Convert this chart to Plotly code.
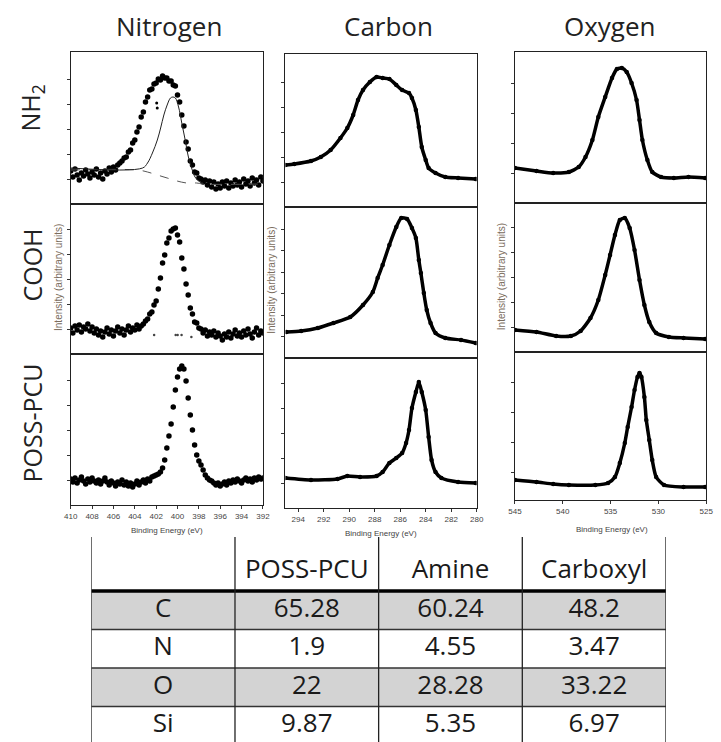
import plotly.graph_objects as go

# ---------------- data ----------------
# Nitrogen 1s: binding energy grid (eV)
N_BE = [410.0, 409.8, 409.6, 409.4, 409.2, 409.0, 408.8, 408.6, 408.4, 408.2,
        408.0, 407.8, 407.6, 407.4, 407.2, 407.0, 406.8, 406.6, 406.4, 406.2,
        406.0, 405.8, 405.6, 405.4, 405.2, 405.0, 404.8, 404.6, 404.4, 404.2,
        404.0, 403.8, 403.6, 403.4, 403.2, 403.0, 402.8, 402.6, 402.4, 402.2,
        402.0, 401.8, 401.6, 401.4, 401.2, 401.0, 400.8, 400.6, 400.4, 400.2,
        400.0, 399.8, 399.6, 399.4, 399.2, 399.0, 398.8, 398.6, 398.4, 398.2,
        398.0, 397.8, 397.6, 397.4, 397.2, 397.0, 396.8, 396.6, 396.4, 396.2,
        396.0, 395.8, 395.6, 395.4, 395.2, 395.0, 394.8, 394.6, 394.4, 394.2,
        394.0, 393.8, 393.6, 393.4, 393.2, 393.0, 392.8, 392.6, 392.4, 392.2,
        392.0]
N_NH2 = [33, 27, 35, 29, 24, 31, 28, 34, 30, 26,
         32, 29, 35, 27, 31, 25, 33, 30, 36, 32,
         37, 34, 39, 41, 43, 46, 47, 52, 54, 61,
         64, 72, 77, 87, 92, 102, 107, 114, 115, 120,
         121, 125, 124, 128, 126, 126, 123, 123, 119, 118,
         109, 102, 89, 78, 62, 55, 43, 39, 32, 31,
         26, 25, 22, 24, 19, 23, 17, 22, 15, 20,
         16, 22, 18, 23, 16, 21, 18, 24, 19, 22,
         17, 25, 20, 23, 18, 26, 21, 24, 19, 27,
         23]
N_NH2_EXTRA_BE = [401.95, 401.9]
N_NH2_EXTRA = [101, 96]
N_NH2_FIT_BE = [410.0, 403.27, 402.81, 402.35, 401.89, 401.58, 401.28, 400.97, 400.66,
                400.43, 400.2, 399.9, 399.6, 399.28, 398.98, 398.68, 398.36, 397.9, 397.6]
N_NH2_FIT = [36, 36, 41, 51, 64, 76, 89, 99, 106, 107, 106, 97, 81, 64, 47, 36, 27, 22, 21]
N_NH2_BG_BE = [410.0, 403.76, 402.81, 401.89, 400.97, 400.05, 399.14, 398.22, 397.6, 392.0]
N_NH2_BG = [34, 34, 32, 29, 26, 23, 21, 21, 20, 20]

N_COOH = [26, 21, 28, 24, 29, 22, 27, 25, 30, 23,
          27, 21, 25, 19, 23, 17, 22, 26, 20, 24,
          18, 23, 27, 21, 25, 19, 24, 28, 22, 26,
          24, 29, 25, 28, 30, 33, 35, 40, 42, 49,
          53, 65, 76, 91, 99, 111, 116, 123, 125, 126,
          119, 112, 96, 85, 70, 59, 46, 40, 32, 31,
          26, 25, 21, 24, 18, 22, 19, 23, 17, 21,
          18, 14, 20, 17, 22, 16, 20, 24, 18, 21,
          17, 23, 19, 25, 20, 16, 22, 26, 19, 23,
          21]
N_COOH_RES_BE = [402.19, 400.17, 399.99, 399.62, 398.7]
N_COOH_RES = [19, 19, 19, 19, 17]

N_POSS = [26, 23, 27, 22, 25, 28, 24, 21, 26, 23,
          27, 24, 22, 25, 21, 24, 27, 23, 20, 24,
          22, 19, 23, 21, 25, 20, 23, 19, 22, 18,
          21, 24, 20, 23, 25, 22, 26, 24, 28, 29,
          30, 31, 33, 37, 45, 57, 69, 81, 98, 115,
          128, 136, 139, 136, 124, 107, 90, 75, 60, 50,
          44, 40, 35, 30, 27, 25, 24, 22, 20, 22,
          19, 21, 23, 20, 24, 22, 25, 23, 26, 24,
          22, 25, 27, 24, 26, 23, 27, 25, 28, 26,
          27]

# Carbon 1s
C_NH2_BE = [295.0, 294.31, 293.0, 292.23, 291.46, 290.69, 290.15, 289.69, 289.31, 288.92,
            288.38, 287.85, 287.38, 286.85, 286.31, 285.85, 285.31, 285.08, 284.77, 284.54,
            284.31, 284.0, 283.77, 283.23, 282.46, 281.46, 280.08]
C_NH2 = [42, 43, 46, 50, 57, 69, 79, 92, 107, 117,
         125, 130, 129, 128, 122, 117, 114, 109, 97, 80,
         60, 47, 39, 34, 30, 29, 28]
C_COOH_BE = [294.92, 293.77, 292.46, 291.23, 289.92, 288.92, 288.15, 287.77, 287.38, 286.85,
             286.31, 285.92, 285.46, 285.08, 284.77, 284.54, 284.38, 284.15, 283.92, 283.62,
             283.23, 282.46, 281.23, 280.08]
C_COOH = [26, 27, 30, 35, 41, 53, 66, 80, 93, 113,
          131, 140, 139, 130, 120, 98, 85, 65, 48, 35,
          25, 20, 18, 15]
C_POSS_BE = [295.0, 293.0, 290.92, 290.15, 289.15, 287.85, 287.38, 286.85, 286.31, 285.85,
             285.54, 285.31, 285.08, 284.77, 284.54, 284.31, 284.0, 283.77, 283.54, 283.23,
             282.77, 281.46, 280.08]
C_POSS = [30, 28, 29, 32, 31, 32, 36, 45, 50, 55,
          65, 78, 100, 116, 126, 116, 98, 71, 48, 36,
          30, 26, 25]

# Oxygen 1s
O_NH2_BE = [545.0, 542.74, 541.0, 539.36, 538.33, 537.62, 536.9, 536.28, 535.56, 534.85,
            534.33, 533.82, 533.31, 532.8, 532.28, 531.97, 531.67, 531.15, 530.64, 529.72,
            528.38, 526.85, 525.1]
O_NH2 = [35, 32, 30, 31, 36, 46, 63, 86, 106, 125,
         134, 135, 131, 120, 103, 83, 63, 43, 31, 26,
         25, 26, 25]
O_COOH_BE = [545.0, 542.74, 540.69, 539.15, 538.13, 537.1, 536.28, 535.56, 535.05, 534.54,
             534.03, 533.51, 533.0, 532.49, 531.97, 531.46, 530.95, 530.23, 528.9, 527.36,
             525.1]
O_COOH = [22, 20, 16, 16, 21, 34, 52, 77, 97, 117,
          132, 134, 124, 102, 72, 47, 30, 19, 15, 14,
          13]
O_POSS_BE = [545.0, 542.74, 541.0, 539.36, 536.59, 535.26, 534.54, 534.03, 533.51, 533.21,
             532.8, 532.49, 532.18, 531.97, 531.77, 531.46, 531.26, 530.95, 530.64, 530.23,
             529.41, 527.36, 525.1]
O_POSS = [20, 18, 16, 15, 15, 17, 23, 37, 57, 73,
          93, 110, 123, 127, 123, 103, 80, 60, 40, 23,
          15, 13, 13]

# axis tick values
N_TICKS = [410, 408, 406, 404, 402, 400, 398, 396, 394, 392]
C_TICKS = [294, 292, 290, 288, 286, 284, 282, 280]
O_TICKS = [545, 540, 535, 530, 525]

COLUMN_TITLES = ["Nitrogen", "Carbon", "Oxygen"]
ROW_TITLES = ["NH<sub>2</sub>", "COOH", "POSS-PCU"]

# composition table (atomic %)
ELEMENTS = ["C", "N", "O", "Si"]
SAMPLES = ["POSS-PCU", "Amine", "Carboxyl"]
POSS_PCU_AT = [65.28, 1.9, 22, 9.87]
AMINE_AT = [60.24, 4.55, 28.28, 5.35]
CARBOXYL_AT = [48.2, 3.47, 33.22, 6.97]

# ---------------- layout helpers ----------------
W, H = 721, 742
def PX(p):
    return p / W
def PY(p):
    return 1 - p / H

BIG = "Open Sans"
SMALL = "Liberation Sans"

col_x = [(65, 261), (284, 479), (518, 713)]
col_rows = [
    [(52, 204), (204, 354), (354, 505)],
    [(54, 207), (207, 358), (358, 508)],
    [(52, 203), (203, 352), (352, 500)],
]
col_xrange = [(410, 392), (295, 280), (545, 525)]
col_xticks = [N_TICKS, C_TICKS, O_TICKS]
ytick_spec = [
    [(25, 25), (25, 25), (25, 25)],
    [(25, 25), (21.5, 21.5), (25, 25)],
    [(30, 30), (25, 25), (28, 30)],
]

series = [
    [(N_BE, N_NH2), (N_BE, N_COOH), (N_BE, N_POSS)],
    [(C_NH2_BE, C_NH2), (C_COOH_BE, C_COOH), (C_POSS_BE, C_POSS)],
    [(O_NH2_BE, O_NH2), (O_COOH_BE, O_COOH), (O_POSS_BE, O_POSS)],
]

fig = go.Figure()
layout = {}
k = 0
for c in range(3):
    for r in range(3):
        k += 1
        xa = "x" if k == 1 else f"x{k}"
        ya = "y" if k == 1 else f"y{k}"
        xkey = "xaxis" if k == 1 else f"xaxis{k}"
        ykey = "yaxis" if k == 1 else f"yaxis{k}"
        top, bot = col_rows[c][r]
        hgt = bot - top
        bottom_row = (r == 2)
        layout[xkey] = dict(
            domain=[PX(col_x[c][0]), PX(col_x[c][1])],
            anchor=ya, range=list(col_xrange[c]),
            showline=True, mirror=True, linecolor="#222", linewidth=1,
            showgrid=False, zeroline=False,
            ticks="outside" if bottom_row else "", ticklen=3, tickcolor="#333",
            tickvals=col_xticks[c], showticklabels=bottom_row,
            ticklabeloverflow="allow",
            tickfont=dict(family=SMALL, size=8, color="#444"),
        )
        t0, dt = ytick_spec[c][r]
        tv = []
        v = t0
        while v < hgt - 8:
            tv.append(v)
            v += dt
        layout[ykey] = dict(
            domain=[PY(bot), PY(top)], anchor=xa, range=[0, hgt],
            showline=True, mirror=True, linecolor="#222", linewidth=1,
            showgrid=False, zeroline=False,
            ticks="outside", ticklen=3, tickcolor="#333",
            tickvals=tv, showticklabels=False,
        )
        xs, ys = series[c][r]
        if c == 0:
            fig.add_trace(go.Scatter(x=xs, y=ys, mode="markers", xaxis=xa, yaxis=ya,
                                     marker=dict(size=5.5, color="#000"),
                                     hoverinfo="skip", showlegend=False))
            if r == 0:
                fig.add_trace(go.Scatter(x=N_NH2_BG_BE, y=N_NH2_BG, mode="lines", xaxis=xa, yaxis=ya,
                                         line=dict(color="#555", width=1, dash="dash", shape="spline"),
                                         hoverinfo="skip", showlegend=False))
                fig.add_trace(go.Scatter(x=N_NH2_FIT_BE, y=N_NH2_FIT, mode="lines", xaxis=xa, yaxis=ya,
                                         line=dict(color="#222", width=1, shape="spline"),
                                         hoverinfo="skip", showlegend=False))
                fig.add_trace(go.Scatter(x=N_NH2_EXTRA_BE, y=N_NH2_EXTRA, mode="markers", xaxis=xa, yaxis=ya,
                                         marker=dict(size=3, color="#000"),
                                         hoverinfo="skip", showlegend=False))
            if r == 1:
                fig.add_trace(go.Scatter(x=N_COOH_RES_BE, y=N_COOH_RES, mode="markers", xaxis=xa, yaxis=ya,
                                         marker=dict(size=2.5, color="#444"),
                                         hoverinfo="skip", showlegend=False))
        else:
            fig.add_trace(go.Scatter(x=xs, y=ys, mode="lines+markers", xaxis=xa, yaxis=ya,
                                     line=dict(color="#000", width=3.5, shape="spline", smoothing=0.6),
                                     marker=dict(size=4.5, color="#000"),
                                     hoverinfo="skip", showlegend=False))

# ---------------- table ----------------
layout["xaxis10"] = dict(domain=[PX(86), PX(672)], range=[-0.5, 3.5], visible=False, anchor="y10")
layout["yaxis10"] = dict(domain=[0, PY(537)], range=[4.422, -0.903], visible=False, anchor="x10")

shapes = []
for i, el in enumerate(ELEMENTS):
    if i % 2 == 0:
        shapes.append(dict(type="rect", xref="x10", yref="y10", x0=-0.5, x1=3.5,
                           y0=i + 0.5, y1=i + 1.5, fillcolor="#d3d3d3", line=dict(width=0), layer="below"))
for i in range(1, len(ELEMENTS)):
    shapes.append(dict(type="line", xref="x10", yref="y10", x0=-0.5, x1=3.5,
                       y0=i + 0.5, y1=i + 0.5, line=dict(color="#333", width=1.3)))
shapes.append(dict(type="line", xref="x10", yref="y10", x0=-0.5, x1=3.5,
                   y0=0.5, y1=0.5, line=dict(color="#000", width=3.5)))
for j in range(len(SAMPLES) + 2):
    shapes.append(dict(type="line", xref="x10", yref="y10", x0=j - 0.5, x1=j - 0.5,
                       y0=-0.903, y1=4.422, line=dict(color="#222", width=1.3)))

tx, ty, tt = [], [], []
for j, s in enumerate(SAMPLES):
    tx.append(j + 1); ty.append(0); tt.append(s)
cols = [POSS_PCU_AT, AMINE_AT, CARBOXYL_AT]
for i, el in enumerate(ELEMENTS):
    tx.append(0); ty.append(i + 1); tt.append(el)
    for j, colvals in enumerate(cols):
        tx.append(j + 1); ty.append(i + 1); tt.append(f"{colvals[i]:g}")
fig.add_trace(go.Scatter(x=tx, y=ty, text=tt, mode="text", xaxis="x10", yaxis="y10",
                         textfont=dict(family=BIG, size=26, color="#1a1a1a"),
                         cliponaxis=False, hoverinfo="skip", showlegend=False))

# ---------------- annotations ----------------
ann = []
for c, (t, cx) in enumerate(zip(COLUMN_TITLES, [165, 389, 615])):
    ann.append(dict(text=t, x=PX(cx), y=PY(26), xref="paper", yref="paper", showarrow=False,
                    xanchor="center", yanchor="middle", font=dict(family=BIG, size=26, color="#222")))
for t, cy in zip(ROW_TITLES, [108, 265, 423]):
    ann.append(dict(text=t, x=PX(25), y=PY(cy), xref="paper", yref="paper", showarrow=False,
                    textangle=-90, xanchor="center", yanchor="middle",
                    font=dict(family=BIG, size=25, color="#222")))
for cx, cy in [(52, 277), (269, 280), (504, 277)]:
    ann.append(dict(text="Intensity (arbitrary units)", x=PX(cx), y=PY(cy), xref="paper", yref="paper",
                    showarrow=False, textangle=-90, xanchor="center", yanchor="middle",
                    font=dict(family=SMALL, size=10, color="#7a6c5d")))
for cx, cy in [(163, 530), (381, 533), (617, 529)]:
    ann.append(dict(text="Binding Energy (eV)", x=PX(cx), y=PY(cy), xref="paper", yref="paper",
                    showarrow=False, xanchor="center", yanchor="middle",
                    font=dict(family=SMALL, size=8, color="#444")))

fig.update_layout(
    width=W, height=H, margin=dict(l=0, r=0, t=0, b=0),
    paper_bgcolor="white", plot_bgcolor="white",
    shapes=shapes, annotations=ann, showlegend=False,
    **layout,
)
fig.write_html("out.html", config={"displayModeBar": False},
               post_script="document.body.style.margin='0';document.body.style.overflow='hidden';")
